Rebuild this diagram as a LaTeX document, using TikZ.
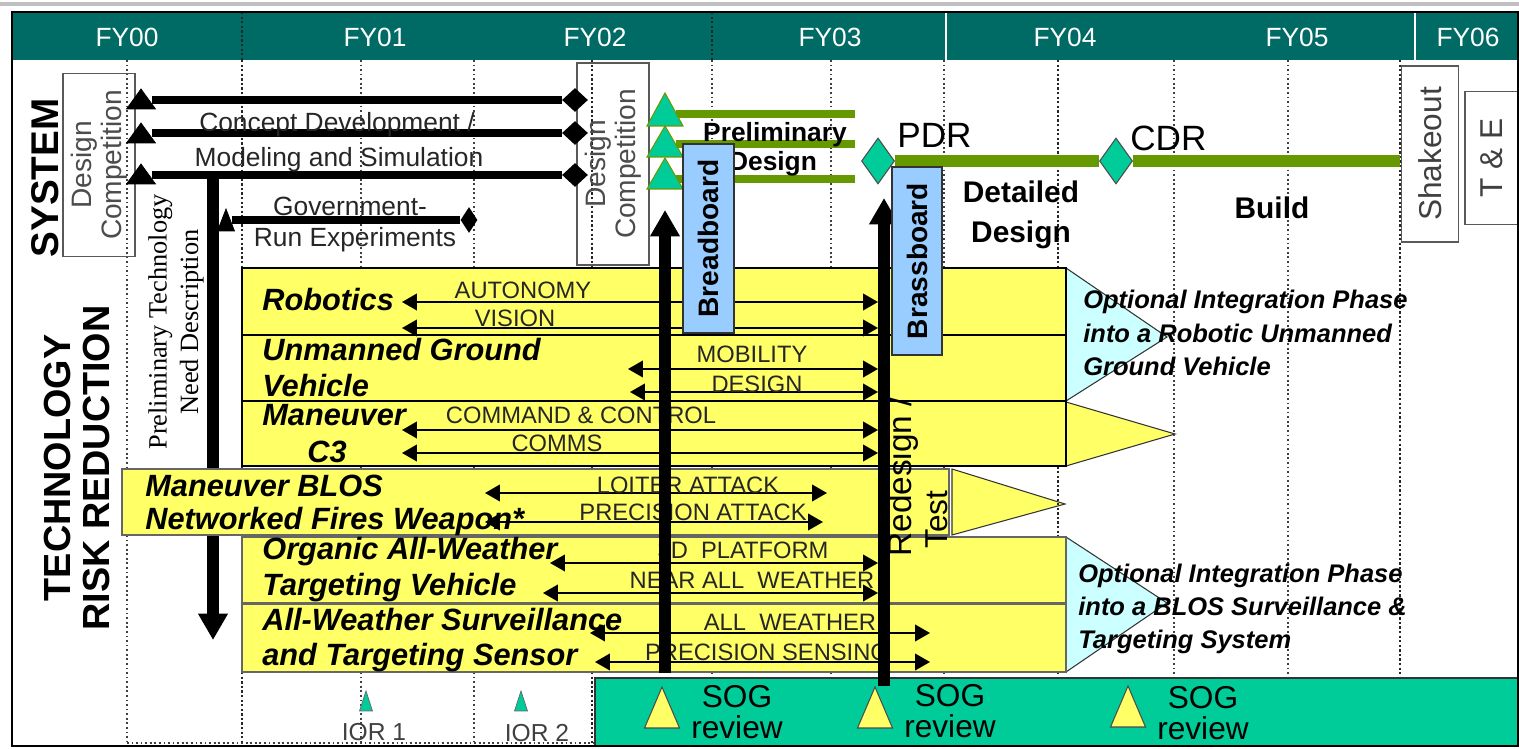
\documentclass[tikz,border=0pt]{standalone}
\usepackage{fontspec}
\setmainfont{Liberation Sans}
\newfontfamily\timesfam{Liberation Serif}
\usetikzlibrary{arrows.meta,shapes.geometric}
\definecolor{hdrteal}{HTML}{006A64}
\definecolor{mint}{HTML}{00CC99}
\definecolor{olivebar}{HTML}{669900}
\definecolor{rowyel}{HTML}{FFFF66}
\definecolor{skyblue}{HTML}{99CCFF}
\definecolor{palecyan}{HTML}{CCFFFF}
\newcommand{\fsz}[2]{\fontsize{#1pt}{#2pt}\selectfont}
\newcommand{\PX}{0.02cm}
\newcommand{\dblarr}[4]{\coordinate (#1a) at (#2,#4); \coordinate (#1b) at (#3,#4); \draw[dbl] (#1a) -- (#1b);}
\tikzset{
  gridlt/.style={black!75, line width=0.7pt, dash pattern=on 1pt off 1.6pt},
  gridhv/.style={black!85, line width=1.3pt, dash pattern=on 1.3pt off 1.3pt},
  hdrlbl/.style={text=white, font=\fsz{15}{18}, inner sep=0},
  rotbox/.style={draw=black!65, line width=0.8pt, rotate=90, align=center, inner sep=0},
  sysline/.style={line width=4.5pt},
  systxt/.style={text=black!85, font=\fsz{15}{18}, inner sep=0},
  rowbox/.style={fill=rowyel, draw=black, line width=1.2pt},
  rowlbl/.style={font=\fsz{17.5}{21}\bfseries\itshape, anchor=west, inner sep=0},
  techlbl/.style={font=\fsz{13.5}{16}, text=black!85, inner sep=0},
  dbl/.style={line width=0.9pt, {Triangle[length=8.5pt,width=9.5pt]}-{Triangle[length=8.5pt,width=9.5pt]}},
  bigup/.style={line width=7pt, -{Triangle[length=15pt,width=16pt]}},
  pics/tri/.style n args={3}{code={\filldraw[#3] (-#1/2,0) -- (#1/2,0) -- (0,-#2) -- cycle;}},
  mdiam/.style={diamond, inner sep=0, fill=black},
  optlbl/.style={font=\fsz{14.5}{19}\bfseries\itshape, align=left, anchor=west, inner sep=0},
  sogtxt/.style={font=\fsz{18}{18}, align=center, inner sep=0},
}
\begin{document}
\begin{tikzpicture}[x=0.02cm, y=-0.02cm]
\useasboundingbox (0,0) rectangle (1519,749);
\fill[white] (0,0) rectangle (1519,749);
\draw[black!25, line width=2pt] (0,4) -- (1519,4);
\begin{scope}
\clip (12,12) rectangle (1518,746);
% ---------- header
\fill[hdrteal] (12,12) rectangle (1519,60);
\draw[gridhv] (242,12) -- (242,60);
\draw[gridhv] (712,12) -- (712,60);
\draw[white, line width=1pt] (946,12) -- (946,60);
\draw[white, line width=1pt] (1415,12) -- (1415,60);
\foreach \lx/\lt in {127/FY00,375/FY01,595/FY02,830/FY03,1065/FY04,1297/FY05,1468/FY06}
  \node[hdrlbl] (h\lt) at (\lx,37) {\lt};
% ---------- right triangles (under grid)
\filldraw[fill=palecyan, draw=black!80, line width=0.6pt] (1066,268) -- (1167,337) -- (1066,401) -- cycle;
\filldraw[fill=rowyel, draw=black!80, line width=0.6pt] (1066,402) -- (1175,434) -- (1066,466) -- cycle;
\filldraw[fill=rowyel, draw=black!80, line width=0.6pt] (952,469) -- (1065,504) -- (952,535) -- cycle;
\filldraw[fill=palecyan, draw=black!80, line width=0.6pt] (1066,537) -- (1167,603) -- (1066,672) -- cycle;
% ---------- grid
\foreach \gx in {127,361,474,712,831,944,1174,1288}
  \draw[gridlt] (\gx,60) -- (\gx,746);
\foreach \gx in {242,592,1058,1400}
  \draw[gridhv] (\gx,60) -- (\gx,746);
\draw[gridlt] (127,743) -- (595,743);
% ---------- titles
\node[rotate=90, font=\fsz{22}{22}\bfseries, inner sep=0] (sys) at (45,178) {SYSTEM};
\node[rotate=90, align=center, font=\fsz{21.5}{22}\bfseries, inner sep=0] (tech) at (77,468) {TECHNOLOGY\\RISK REDUCTION};
% ---------- system section
\node[rotbox, minimum width=183*\PX, minimum height=72*\PX, font=\fsz{16}{17}, text=black!70] (dc1) at (99,165) {Design\\Competition};
\node[rotbox, minimum width=202*\PX, minimum height=72*\PX, font=\fsz{16}{17}, text=black!70] (dc2) at (613,164) {Design\\Competition};
\pic at (141,109) {tri={29}{20}{fill=black}};
\pic at (141,143) {tri={29}{20}{fill=black}};
\pic at (141,184) {tri={29}{20}{fill=black}};
\coordinate (s1a) at (152,100);
\coordinate (s2a) at (152,133);
\coordinate (s3a) at (152,175);
\node[mdiam, minimum width=26*\PX, minimum height=24*\PX] (s1d) at (575,100) {};
\node[mdiam, minimum width=26*\PX, minimum height=24*\PX] (s2d) at (575,133) {};
\node[mdiam, minimum width=26*\PX, minimum height=24*\PX] (s3d) at (575,175) {};
\draw[sysline] (s1a) -- (s1d);
\draw[sysline] (s2a) -- (s2d);
\draw[sysline] (s3a) -- (s3d);
\pic at (226,231) {tri={17}{22}{fill=black}};
\coordinate (ga) at (232,220);
\node[mdiam, minimum width=17*\PX, minimum height=26*\PX] (gd) at (469,220) {};
\draw[sysline] (ga) -- (gd);
\node[systxt] (cd1) at (337,125) {Concept Development /};
\node[systxt] (cd2) at (339,160) {Modeling and Simulation};
\node[systxt] (ge1) at (350,206) {Government-};
\node[systxt] (ge2) at (355,240) {Run Experiments};
\coordinate (pa) at (213,171);
\coordinate (pb) at (213,640);
\draw[bigup] (pa) -- (pb);
\node[rotate=90, align=center, font=\timesfam\fsz{15}{18}, inner sep=0] (ptnd) at (176,322) {Preliminary Technology\\Need Description};
% preliminary design
\coordinate (gb1a) at (676,114); \coordinate (gb1b) at (855,114);
\coordinate (gb2a) at (676,144); \coordinate (gb2b) at (855,144);
\coordinate (gb3a) at (676,179); \coordinate (gb3b) at (855,179);
\draw[olivebar, line width=5pt] (gb1a) -- (gb1b);
\draw[olivebar, line width=5pt] (gb2a) -- (gb2b);
\draw[olivebar, line width=5pt] (gb3a) -- (gb3b);
\pic at (665,126) {tri={36}{33}{fill=mint, draw=olivebar, line width=0.6pt}};
\pic at (665,157) {tri={36}{31}{fill=mint, draw=olivebar, line width=0.6pt}};
\pic at (665,189) {tri={36}{31}{fill=mint, draw=olivebar, line width=0.6pt}};
\node[font=\fsz{15}{17}\bfseries, inner sep=0] (pd1) at (775,135) {Preliminary};
\node[font=\fsz{15}{17}\bfseries, inner sep=0] (pd2) at (773,164) {Design};
% PDR / CDR
\node[diamond, fill=mint, draw=black!70, line width=0.6pt, minimum width=33*\PX, minimum height=46*\PX, inner sep=0] (pdr) at (878,161) {};
\node[diamond, fill=mint, draw=black!70, line width=0.6pt, minimum width=33*\PX, minimum height=46*\PX, inner sep=0] (cdr) at (1116,161) {};
\coordinate (bend) at (1400,161);
\draw[olivebar, line width=6.5pt] (pdr) -- (cdr);
\draw[olivebar, line width=6.5pt] (cdr) -- (bend);
\node[font=\fsz{20}{22}, anchor=west, inner sep=0] (pdrl) at (897,135) {PDR};
\node[font=\fsz{20}{22}, anchor=west, inner sep=0] (cdrl) at (1130,138) {CDR};
\node[font=\fsz{17}{23}\bfseries, align=center, inner sep=0] (dd) at (1021,215) {Detailed\\Design};
\node[font=\fsz{17}{20}\bfseries, inner sep=0] (bld) at (1272,208) {Build};
\node[rotbox, minimum width=176*\PX, minimum height=57*\PX, font=\fsz{18}{20}, text=black!75] (shk) at (1430,154) {Shakeout};
\node[rotbox, minimum width=133*\PX, minimum height=54*\PX, font=\fsz{18}{20}, text=black!75] (tne) at (1492,158) {T \& E};
% ---------- technology rows
\draw[rowbox] (242,268) rectangle (1066,335);
\draw[rowbox] (242,335) rectangle (1066,401);
\draw[rowbox] (242,401) rectangle (1066,466);
\draw[rowbox, draw=black!60] (122,469) rectangle (949,535);
\draw[rowbox, draw=black!60] (242,537) rectangle (1066,603);
\draw[rowbox, draw=black!60] (242,604) rectangle (1066,672);
\node[rowlbl] (rob) at (262,300) {Robotics};
\node[rowlbl] (ugv1) at (262,350) {Unmanned Ground};
\node[rowlbl] (ugv2) at (262,386) {Vehicle};
\node[rowlbl] (mc1) at (262,415) {Maneuver};
\node[rowlbl] (mc2) at (307,452) {C3};
\node[rowlbl] (bl1) at (145,486) {Maneuver BLOS};
\node[rowlbl] (bl2) at (145,522) {Networked Fires Weapon*};
\node[rowlbl] (oa1) at (262,552) {Organic All-Weather};
\node[rowlbl] (oa2) at (262,588) {Targeting Vehicle};
\node[rowlbl] (aw1) at (262,620) {All-Weather Surveillance};
\node[rowlbl] (aw2) at (262,658) {and Targeting Sensor};
\dblarr{auto}{402}{878}{302}
\dblarr{vis}{402}{878}{328}
\dblarr{mob}{628}{878}{369}
\dblarr{des}{630}{878}{392}
\dblarr{cc}{402}{878}{430}
\dblarr{com}{402}{878}{453}
\dblarr{loi}{485}{827}{493}
\dblarr{pre}{485}{823}{522}
\dblarr{pla}{550}{878}{563}
\dblarr{naw}{543}{878}{593}
\dblarr{aw}{590}{930}{633}
\dblarr{ps}{595}{930}{662}
\node[techlbl] (autol) at (523,290) {AUTONOMY};
\node[techlbl] (visl) at (515,318) {VISION};
\node[techlbl] (mobl) at (752,354) {MOBILITY};
\node[techlbl] (desl) at (757,384) {DESIGN};
\node[techlbl] (ccl) at (581,415) {COMMAND \& CONTROL};
\node[techlbl] (coml) at (557,443) {COMMS};
\node[techlbl] (loil) at (688,485) {LOITER ATTACK};
\node[techlbl] (prel) at (693,512) {PRECISION ATTACK};
\node[techlbl] (plal) at (743,550) {3D~~PLATFORM};
\node[techlbl] (nawl) at (752,580) {NEAR ALL~~WEATHER};
\node[techlbl] (awl) at (790,622) {ALL~~WEATHER};
\node[techlbl] (psl) at (767,652) {PRECISION SENSING};
\node[optlbl] (opt1) at (1083,333) {Optional Integration Phase\\into a Robotic Unmanned\\Ground Vehicle};
\node[optlbl] (opt2) at (1078,609) {Optional Integration Phase\\into a BLOS Surveillance \&\\Targeting System};
% ---------- SOG area
\fill[mint] (595,678) rectangle (1518,746);
\draw[black!80, line width=1pt] (595,746) -- (595,678) -- (1518,678);
\pic at (662,728) {tri={35}{41}{fill=rowyel, draw=black!70, line width=0.6pt}};
\pic at (875,728) {tri={35}{41}{fill=rowyel, draw=black!70, line width=0.6pt}};
\pic at (1128,727) {tri={35}{41}{fill=rowyel, draw=black!70, line width=0.6pt}};
\node[sogtxt] (sog1) at (737,712) {SOG\\review};
\node[sogtxt] (sog2) at (950,711) {SOG\\review};
\node[sogtxt] (sog3) at (1203,713) {SOG\\review};
\pic at (366,711) {tri={13}{20}{fill=mint, draw=black!60, line width=0.4pt}};
\pic at (521,711) {tri={13}{20}{fill=mint, draw=black!60, line width=0.4pt}};
\node[font=\fsz{14}{16}, text=black!75, inner sep=0] (ior1) at (374,732) {IOR 1};
\node[font=\fsz{14}{16}, text=black!75, inner sep=0] (ior2) at (537,733) {IOR 2};
% ---------- big arrows and boards
\coordinate (bra) at (665,673); \coordinate (brt) at (665,210);
\draw[bigup] (bra) -- (brt);
\coordinate (bsa) at (884,686); \coordinate (bst) at (884,198);
\draw[bigup] (bsa) -- (bst);
\node[rotbox, fill=skyblue, draw=black!80, minimum width=189*\PX, minimum height=51*\PX, font=\fsz{16}{17}\bfseries] (bb) at (708.5,238.5) {Breadboard};
\node[rotbox, fill=skyblue, draw=black!80, minimum width=188*\PX, minimum height=50*\PX, font=\fsz{16}{17}\bfseries] (brb) at (917,261) {Brassboard};
\node[rotate=90, anchor=west, font=\fsz{19}{20}, inner sep=0] (rdsg) at (903,557) {Redesign /};
\node[rotate=90, anchor=west, font=\fsz{18}{20}, inner sep=0] (tst) at (937,549) {Test};
\end{scope}
\draw[line width=1.6pt] (12,12) rectangle (1518,746);
\end{tikzpicture}
\end{document}
